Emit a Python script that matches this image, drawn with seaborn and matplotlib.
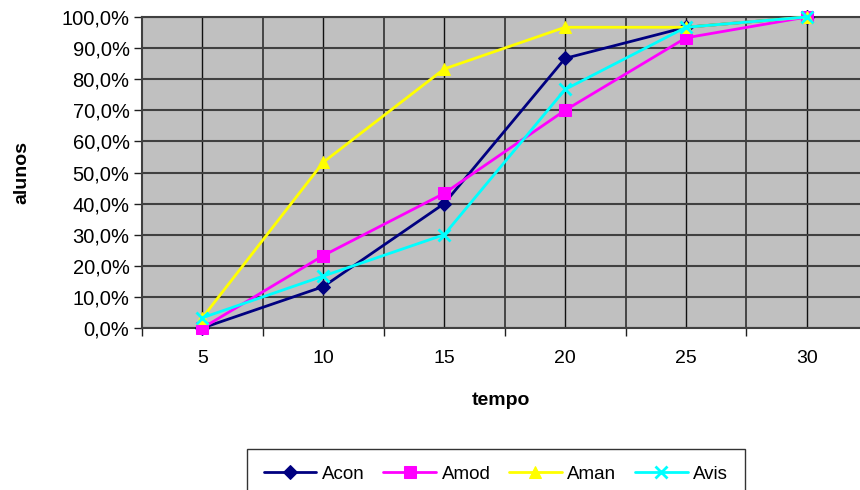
import matplotlib
matplotlib.use("Agg")
import matplotlib.pyplot as plt
import seaborn as sns
import pandas as pd
import numpy as np
from matplotlib.ticker import FixedLocator, FuncFormatter

# ---- data ----
tempo = [5, 10, 15, 20, 25, 30]
acon = [0.0, 0.133, 0.400, 0.867, 0.967, 1.000]
amod = [0.0, 0.233, 0.433, 0.700, 0.933, 1.000]
aman = [0.033, 0.533, 0.833, 0.967, 0.967, 1.000]
avis = [0.033, 0.167, 0.300, 0.767, 0.967, 1.000]
series_names = ["Acon", "Amod", "Aman", "Avis"]
series_values = [acon, amod, aman, avis]

colors = {"Acon": "#000080", "Amod": "#FF00FF", "Aman": "#FFFF00", "Avis": "#00FFFF"}
markers = {"Acon": "D", "Amod": "s", "Aman": "^", "Avis": "x"}
msizes = {"Acon": 7, "Amod": 8.5, "Aman": 8.5, "Avis": 9}

sns.set_theme(style="white")
plt.rcParams["font.family"] = ["Liberation Sans", "DejaVu Sans"]
for k in ["text.color", "axes.labelcolor", "xtick.color", "ytick.color"]:
    plt.rcParams[k] = "black"

fig = plt.figure(figsize=(8.6, 4.9), dpi=100)
ax = fig.add_axes([142 / 860, 1 - 328 / 490, 1 - 142 / 860, (328 - 17) / 490])
ax.set_facecolor("#C0C0C0")

for name, vals in zip(series_names, series_values):
    d = pd.DataFrame({"tempo": tempo, "alunos": vals})
    kw = dict(marker=markers[name], markersize=msizes[name], color=colors[name],
              linewidth=2.0, label=name, clip_on=False, zorder=3,
              markeredgecolor=colors[name], markerfacecolor=colors[name])
    if markers[name] == "x":
        kw.update(markeredgewidth=2.0)
    sns.lineplot(data=d, x="tempo", y="alunos", ax=ax, **kw)

ax.set_xlim(2.5, 32.2)
ax.set_ylim(0, 1.0)

# ticks
ax.xaxis.set_major_locator(FixedLocator(tempo))
ax.xaxis.set_minor_locator(FixedLocator([t - 2.5 for t in tempo] + [32.5]))
ax.set_xticklabels([str(t) for t in tempo])
ax.set_yticks(np.linspace(0, 1, 11))
ax.yaxis.set_major_formatter(FuncFormatter(lambda v, p: f"{v*100:.1f}%".replace(".", ",")))

ax.tick_params(axis="x", which="major", length=0, labelsize=14, pad=16, labelcolor="black")
ax.tick_params(axis="x", which="minor", length=6, width=1, color="#202020", direction="out", bottom=True)
ax.tick_params(axis="y", which="major", length=6, width=1, color="#202020", direction="out",
               labelsize=14.5, pad=3, left=True, labelcolor="black")

# grid
ax.grid(True, axis="y", which="major", color="#404040", linewidth=1.5, zorder=0)
ax.grid(True, axis="x", which="major", color="#101010", linewidth=1.0, zorder=0)
ax.grid(True, axis="x", which="minor", color="#303030", linewidth=1.2, zorder=0)
ax.set_axisbelow(True)

for s in ["left", "bottom", "top"]:
    ax.spines[s].set_visible(True)
    ax.spines[s].set_color("#404040")
    ax.spines[s].set_linewidth(1.5)
ax.spines["right"].set_visible(False)

ax.set_xlabel("tempo", fontsize=14, fontweight="bold", color="black")
ax.set_ylabel("alunos", fontsize=14, fontweight="bold", color="black")
ax.xaxis.set_label_coords(0.5, (328 - 400) / 311)
ax.xaxis.label.set_va("center")
ax.yaxis.set_label_coords((22 - 142) / 718, 0.5)
ax.yaxis.label.set_va("center")

handles, labels = ax.get_legend_handles_labels()
if ax.get_legend() is not None:
    ax.get_legend().remove()
leg = fig.legend(handles, labels, loc="upper center", bbox_to_anchor=(496 / 860, 1 - 449 / 490),
                 ncol=4, frameon=True, fancybox=False, fontsize=13.5, handlelength=2.8,
                 handletextpad=0.3, columnspacing=1.0, borderpad=0.9, borderaxespad=0)
leg.get_frame().set_edgecolor("black")
leg.get_frame().set_linewidth(1.0)
for t in leg.get_texts():
    t.set_color("black")

fig.savefig("out.png", dpi=100)
